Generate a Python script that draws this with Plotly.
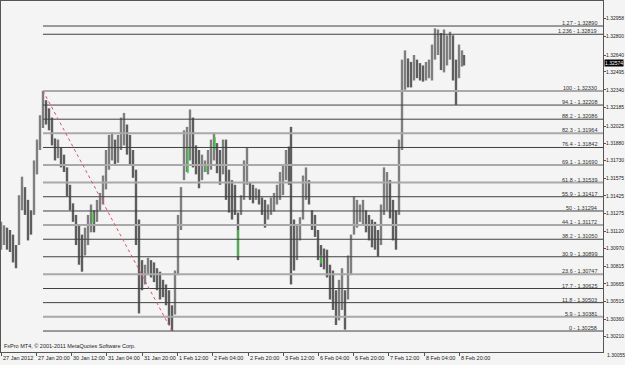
import plotly.graph_objects as go

# ---------------- data ----------------
bar_x = [1, 4, 7, 10, 13, 16, 19, 22, 25, 28, 31, 34, 37, 40, 43, 46, 49, 52, 55, 58,
         61, 64, 67, 70, 73, 76, 79, 82, 85, 88, 91, 94, 97, 100, 103, 106, 109, 112, 115, 118,
         121, 124, 127, 130, 133, 136, 139, 142, 145, 148, 151, 154, 157, 160, 163, 166, 169, 172, 175, 178,
         181, 184, 187, 190, 193, 196, 199, 202, 205, 208, 211, 214, 217, 220, 223, 226, 229, 232, 235, 238,
         241, 244, 247, 250, 253, 256, 259, 262, 265, 268, 271, 274, 277, 280, 283, 286, 289, 291, 294, 297,
         300, 303, 306, 309, 312, 315, 318, 321, 324, 327, 330, 333, 336, 339, 342, 345, 348, 351, 354, 357,
         360, 363, 366, 369, 372, 375, 378, 381, 384, 387, 390, 393, 396, 399, 402, 405, 408, 411, 414, 417,
         420, 423, 426, 429, 432, 435, 438, 441, 444, 447, 450, 453, 456, 459, 462, 464]

bar_high = [1.3120, 1.3117, 1.3115, 1.3113, 1.3109, 1.3100, 1.3143, 1.3159, 1.3150, 1.3139,
            1.3130, 1.3173, 1.3191, 1.3212, 1.3233, 1.3225, 1.3218, 1.3210, 1.3192, 1.3191,
            1.3184, 1.3178, 1.3167, 1.3152, 1.3136, 1.3126, 1.3117, 1.3109, 1.3115, 1.3126,
            1.3135, 1.3130, 1.3139, 1.3145, 1.3160, 1.3182, 1.3195, 1.3197, 1.3191, 1.3195,
            1.3210, 1.3214, 1.3204, 1.3195, 1.3182, 1.3165, 1.3122, 1.3087, 1.3083, 1.3089,
            1.3087, 1.3085, 1.3080, 1.3077, 1.3070, 1.3066, 1.3061, 1.3048, 1.3078, 1.3126,
            1.3150, 1.3199, 1.3202, 1.3217, 1.3210, 1.3186, 1.3182, 1.3178, 1.3173, 1.3182,
            1.3191, 1.3197, 1.3188, 1.3182, 1.3191, 1.3191, 1.3165, 1.3156, 1.3152, 1.3128,
            1.3143, 1.3173, 1.3184, 1.3154, 1.3152, 1.3149, 1.3148, 1.3141, 1.3139, 1.3135,
            1.3141, 1.3145, 1.3152, 1.3163, 1.3169, 1.3182, 1.3185, 1.3202, 1.3122, 1.3117,
            1.3124, 1.3160, 1.3167, 1.3156, 1.3130, 1.3126, 1.3113, 1.3100, 1.3097, 1.3096,
            1.3083, 1.3078, 1.3061, 1.3070, 1.3080, 1.3061, 1.3091, 1.3109, 1.3142, 1.3139,
            1.3135, 1.3139, 1.3130, 1.3126, 1.3122, 1.3120, 1.3113, 1.3135, 1.3167, 1.3163,
            1.3156, 1.3139, 1.3130, 1.3191, 1.3260, 1.3268, 1.3261, 1.3258, 1.3264, 1.3260,
            1.3257, 1.3255, 1.3258, 1.3260, 1.3273, 1.3287, 1.3286, 1.3283, 1.3286, 1.3281,
            1.3284, 1.3281, 1.3260, 1.3273, 1.3268, 1.3264]

bar_low = [1.3096, 1.3100, 1.3096, 1.3094, 1.3085, 1.3080, 1.3100, 1.3130, 1.3126, 1.3104,
           1.3109, 1.3126, 1.3161, 1.3182, 1.3201, 1.3204, 1.3199, 1.3186, 1.3173, 1.3175,
           1.3167, 1.3163, 1.3142, 1.3130, 1.3120, 1.3100, 1.3083, 1.3077, 1.3091, 1.3100,
           1.3111, 1.3111, 1.3120, 1.3130, 1.3135, 1.3148, 1.3165, 1.3173, 1.3169, 1.3171,
           1.3182, 1.3186, 1.3178, 1.3169, 1.3158, 1.3100, 1.3041, 1.3061, 1.3066, 1.3074,
           1.3072, 1.3068, 1.3061, 1.3053, 1.3055, 1.3048, 1.3031, 1.30258, 1.3040, 1.3074,
           1.3113, 1.3156, 1.3163, 1.3173, 1.3167, 1.3161, 1.3149, 1.3156, 1.3163, 1.3161,
           1.3165, 1.3173, 1.3162, 1.3152, 1.3161, 1.3139, 1.3128, 1.3122, 1.3126, 1.3087,
           1.3126, 1.3139, 1.3152, 1.3139, 1.3136, 1.3139, 1.3135, 1.3126, 1.3115, 1.3122,
           1.3126, 1.3129, 1.3135, 1.3139, 1.3143, 1.3156, 1.3152, 1.3066, 1.3078, 1.3087,
           1.3104, 1.3122, 1.3139, 1.3135, 1.3113, 1.3107, 1.3087, 1.3081, 1.3079, 1.3072,
           1.3053, 1.3044, 1.3031, 1.3035, 1.3044, 1.3027, 1.3053, 1.3074, 1.3109, 1.3115,
           1.3120, 1.3117, 1.3111, 1.3104, 1.3098, 1.3096, 1.3090, 1.3100, 1.3126, 1.3130,
           1.3123, 1.3104, 1.3096, 1.3126, 1.3182, 1.3234, 1.3236, 1.3236, 1.3242, 1.3244,
           1.3242, 1.3241, 1.3242, 1.3244, 1.3242, 1.3260, 1.3264, 1.3251, 1.3249, 1.3255,
           1.3260, 1.3242, 1.3221, 1.3244, 1.3254, 1.3255]

green_x = [93, 188, 206, 215, 238, 321]
green_top = [1.3128, 1.3185, 1.3169, 1.3193, 1.3113, 1.3091]
green_bottom = [1.3119, 1.3162, 1.3163, 1.3182, 1.3090, 1.3084]

fib_names = ["1.27", "1.236", "100", "94.1", "88.2", "82.3", "76.4", "69.1", "61.8", "55.9",
             "50", "44.1", "38.2", "30.9", "23.6", "17.7", "11.8", "5.9", "0"]
fib_prices = [1.32890, 1.32819, 1.32330, 1.32208, 1.32086, 1.31964, 1.31842, 1.31690, 1.31539, 1.31417,
              1.31294, 1.31172, 1.31050, 1.30899, 1.30747, 1.30625, 1.30503, 1.30381, 1.30258]
fib_start_bar = 43
fib_end_bar = 172
fib_high = 1.32330
fib_low = 1.30258

axis_ticks = [1.32958, 1.32800, 1.32640, 1.32495, 1.32340, 1.32185, 1.32025, 1.31880, 1.31730, 1.31575,
              1.31425, 1.31275, 1.31120, 1.30970, 1.30815, 1.30665, 1.30515, 1.30360, 1.30210, 1.30055]

date_bars = [1, 36, 71, 106, 142, 177, 212, 248, 283, 318, 353, 388, 424, 459]
date_labels = ["27 Jan 2012", "27 Jan 20:00", "30 Jan 12:00", "31 Jan 04:00", "31 Jan 20:00",
               "1 Feb 12:00", "2 Feb 04:00", "2 Feb 20:00", "3 Feb 12:00", "6 Feb 04:00",
               "6 Feb 20:00", "7 Feb 12:00", "8 Feb 04:00", "8 Feb 20:00"]

last_price = 1.32574
x_range = [1, 603]
y_range = [1.30077, 1.33106]

# ---------------- styles ----------------
BG = "#f4f4f4"
FRAME = "#555555"
DARK_BAR = "#5e5e5e"
LIGHT_BAR = "#7f7f7f"
GREEN = "#3ccf3c"
FIB_DARK = "#404040"
FIB_LIGHT = "#a9a9a9"
light_fib = {"100", "82.3", "69.1", "61.8", "44.1", "23.6", "5.9"}
FONT = "Liberation Sans"
FS = 5.5
AXFS = 5

fig = go.Figure()

# price bars, shaded by direction of their midpoint
groups = {DARK_BAR: ([], []), LIGHT_BAR: ([], [])}
prev_mid = None
for x, hi, lo in zip(bar_x, bar_high, bar_low):
    mid = (hi + lo) / 2
    col = LIGHT_BAR if (prev_mid is None or mid >= prev_mid) else DARK_BAR
    prev_mid = mid
    gx, gy = groups[col]
    gx += [x, x, None]
    gy += [lo, hi, None]
for col, (gx, gy) in groups.items():
    fig.add_trace(go.Scatter(x=gx, y=gy, mode="lines", line=dict(color=col, width=2.4),
                             hoverinfo="skip", showlegend=False))

gx, gy = [], []
for x, t, b in zip(green_x, green_top, green_bottom):
    gx += [x, x, None]
    gy += [b, t, None]
fig.add_trace(go.Scatter(x=gx, y=gy, mode="lines", line=dict(color=GREEN, width=1.5),
                         hoverinfo="skip", showlegend=False))

# fibonacci levels
for name, p in zip(fib_names, fib_prices):
    light = name in light_fib
    fig.add_trace(go.Scatter(x=[fib_start_bar, x_range[1]], y=[p, p], mode="lines",
                             line=dict(color=FIB_LIGHT if light else FIB_DARK, width=2 if light else 1),
                             hoverinfo="skip", showlegend=False))
    fig.add_annotation(x=598, y=p, xref="x", yref="y", xanchor="right", yanchor="bottom",
                       text=f"{name} - {p:.5f}", showarrow=False, yshift=-1,
                       font=dict(family=FONT, size=FS, color="#333333"), borderpad=0)

# fibonacci trend line
fig.add_trace(go.Scatter(x=[fib_start_bar, fib_end_bar], y=[fib_high, fib_low], mode="lines",
                         line=dict(color="#e0506e", width=1, dash="dot"),
                         hoverinfo="skip", showlegend=False))

# date labels (left aligned at their ticks)
for b, lab in zip(date_bars, date_labels):
    fig.add_annotation(x=b, y=0, xref="x", yref="paper", xanchor="left", yanchor="top",
                       text=lab, showarrow=False, xshift=1, yshift=-2, borderpad=0,
                       font=dict(family=FONT, size=FS, color="#222222"))

# price labels below the visible range
for t in axis_ticks:
    if t < y_range[0]:
        fig.add_annotation(x=1, y=0, xref="paper", yref="paper", xanchor="left", yanchor="middle",
                           text=f"{t:.5f}", showarrow=False, xshift=3, yshift=-3, borderpad=0,
                           font=dict(family=FONT, size=AXFS, color="#222222"))

# current price box
fig.add_annotation(x=1, y=last_price, xref="paper", yref="y", xanchor="left", yanchor="middle",
                   text=f"{last_price:.5f}", showarrow=False, xshift=1, bgcolor="#000000",
                   borderpad=0, font=dict(family=FONT, size=AXFS, color="#ffffff"))

# copyright
fig.add_annotation(x=0, y=0, xref="paper", yref="paper", xanchor="left", yanchor="bottom",
                   text="FxPro MT4, © 2001-2011 MetaQuotes Software Corp.", showarrow=False,
                   xshift=2, yshift=2, borderpad=0, font=dict(family=FONT, size=FS, color="#222222"))

fig.update_layout(width=625, height=365, template="none",
                  margin=dict(l=1, r=22, t=1, b=13, pad=0),
                  paper_bgcolor=BG, plot_bgcolor=BG, showlegend=False,
                  font=dict(family=FONT, size=FS, color="#222222"))
fig.update_xaxes(range=x_range, showgrid=False, zeroline=False, showline=True, mirror=True,
                 linecolor=FRAME, linewidth=1, tickvals=date_bars, ticks="outside", ticklen=3,
                 tickcolor=FRAME, showticklabels=False, automargin=False, fixedrange=True)
fig.update_yaxes(range=y_range, side="right", showgrid=False, zeroline=False, showline=True,
                 mirror=True, linecolor=FRAME, linewidth=1, tickvals=axis_ticks,
                 ticktext=[f"{t:.5f}" for t in axis_ticks], ticks="outside", ticklen=2,
                 ticklabelstandoff=-1,
                 tickcolor=FRAME, tickfont=dict(family=FONT, size=AXFS, color="#222222"),
                 automargin=False, fixedrange=True)

fig.write_html("out.html")
